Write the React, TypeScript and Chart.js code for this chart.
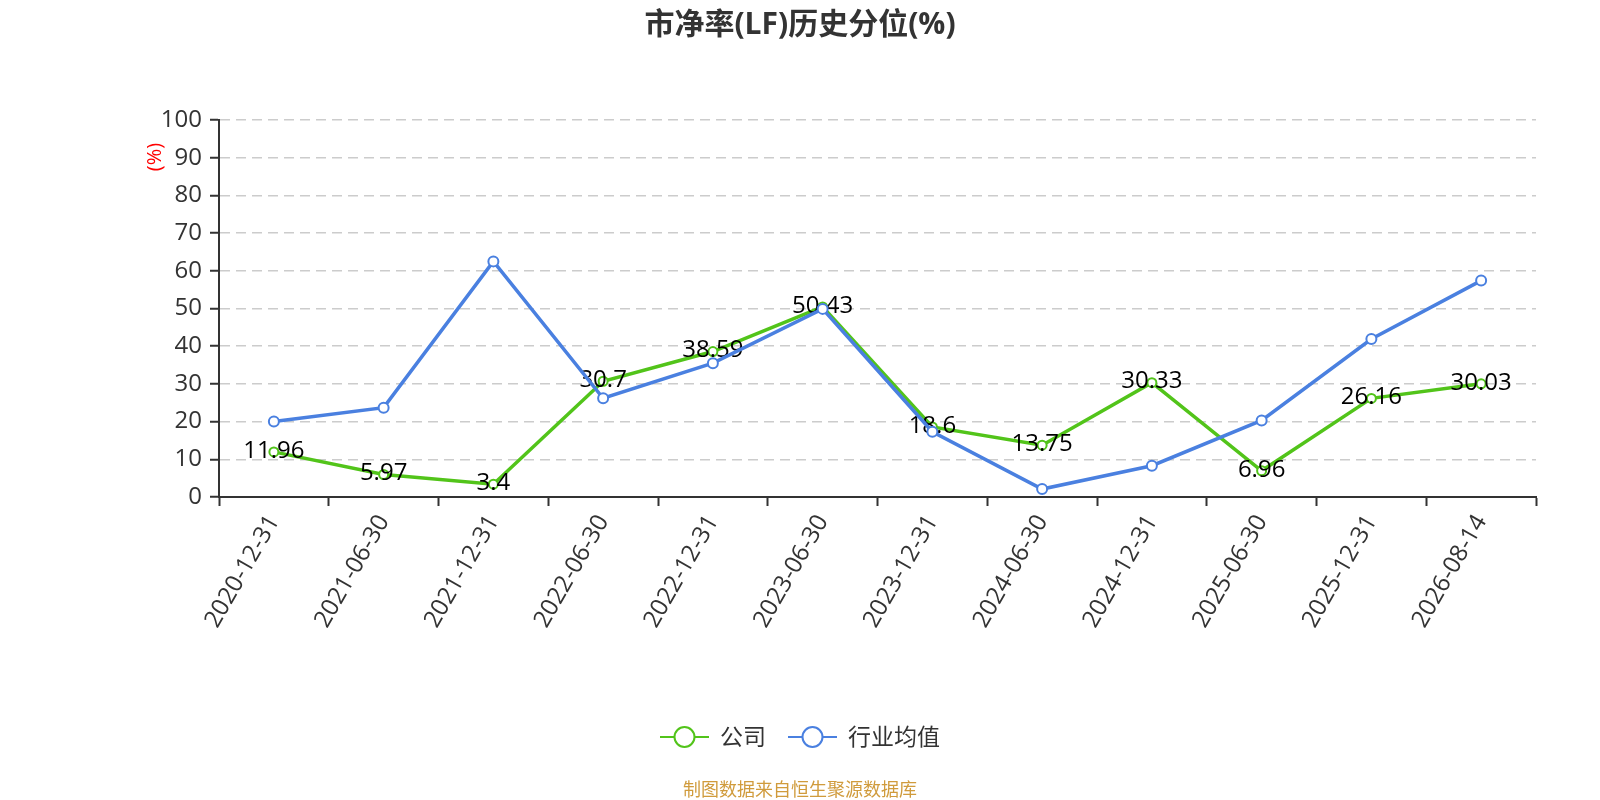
import React, { useEffect, useRef } from 'react';
import { Chart, registerables } from 'chart.js';

Chart.register(...registerables);

const dates = [
    '2020-12-31', '2021-06-30', '2021-12-31', '2022-06-30', '2022-12-31', '2023-06-30',
    '2023-12-31', '2024-06-30', '2024-12-31', '2025-06-30', '2025-12-31', '2026-08-14',
];
const companyValues = [11.96, 5.97, 3.4, 30.7, 38.59, 50.43, 18.6, 13.75, 30.33, 6.96, 26.16, 30.03];
const industryValues = [20.0, 23.7, 62.5, 26.2, 35.5, 49.9, 17.3, 2.1, 8.3, 20.3, 41.9, 57.4];
const seriesNames = ['公司', '行业均值'];

const GREEN = '#52c41a';
const BLUE = '#4a80e0';
const FONT = '"Open Sans", "Noto Sans CJK SC", sans-serif';

// title, y unit, data labels, legend and source line
const decorPlugin = {
    id: 'decor',
    afterDatasetDraw(chart: any, args: any) {
        if (args.index !== 0) return;
        const ctx = chart.ctx;
        ctx.save();
        ctx.font = `24px ${FONT}`;
        ctx.fillStyle = '#000';
        ctx.textAlign = 'center';
        ctx.textBaseline = 'middle';
        args.meta.data.forEach((pt: any, i: number) => {
            ctx.fillText(String(companyValues[i]), pt.x, pt.y - 1);
        });
        ctx.restore();
    },
    afterDraw(chart: any) {
        const ctx = chart.ctx;
        const { chartArea } = chart;
        const cx = chart.width / 2;
        ctx.save();

        // title
        ctx.fillStyle = '#333';
        ctx.font = `bold 30px ${FONT}`;
        ctx.textAlign = 'center';
        ctx.textBaseline = 'middle';
        ctx.fillText('市净率(LF)历史分位(%)', cx, 25);

        // y unit
        ctx.save();
        ctx.translate(chartArea.left - 64, chartArea.top + 37);
        ctx.rotate(-Math.PI / 2);
        ctx.fillStyle = 'red';
        ctx.font = `20px ${FONT}`;
        ctx.fillText('(%)', 0, 0);
        ctx.restore();

        // legend
        ctx.font = `23px ${FONT}`;
        const iconW = 49;
        const items = chart.data.datasets.map((ds: any) => ({
            label: ds.label,
            color: ds.borderColor,
            w: iconW + 11 + ctx.measureText(ds.label).width,
        }));
        const gap = 22;
        const total = items.reduce((s: number, it: any) => s + it.w, 0) + gap * (items.length - 1);
        let x = cx - total / 2;
        const ly = 737;
        items.forEach((it: any) => {
            ctx.strokeStyle = it.color;
            ctx.lineWidth = 2;
            ctx.beginPath();
            ctx.moveTo(x, ly);
            ctx.lineTo(x + iconW, ly);
            ctx.stroke();
            ctx.beginPath();
            ctx.arc(x + iconW / 2, ly, 10, 0, Math.PI * 2);
            ctx.fillStyle = '#fff';
            ctx.fill();
            ctx.stroke();
            ctx.fillStyle = '#333';
            ctx.textAlign = 'left';
            ctx.fillText(it.label, x + iconW + 11, ly + 1);
            x += it.w + gap;
        });

        // source
        ctx.font = `18px ${FONT}`;
        ctx.fillStyle = '#d09b3c';
        ctx.textAlign = 'center';
        ctx.fillText('制图数据来自恒生聚源数据库', cx, 791);
        ctx.restore();
    },
};

function App() {
    const chartRef = useRef<HTMLCanvasElement | null>(null);
    const chartInstance = useRef<Chart | null>(null);

    useEffect(() => {
        if (!chartRef.current) return;
        if (chartInstance.current) chartInstance.current.destroy();

        chartInstance.current = new Chart(chartRef.current, {
            type: 'line',
            data: {
                labels: dates,
                datasets: [
                    {
                        label: seriesNames[0],
                        data: companyValues,
                        borderColor: GREEN,
                        backgroundColor: '#fff',
                        borderWidth: 3.5,
                        pointRadius: 4.5,
                        pointBorderWidth: 2,
                        pointBackgroundColor: '#fff',
                        pointBorderColor: GREEN,
                        tension: 0,
                        order: 1,
                    },
                    {
                        label: seriesNames[1],
                        data: industryValues,
                        borderColor: BLUE,
                        backgroundColor: '#fff',
                        borderWidth: 3.5,
                        pointRadius: 5,
                        pointBorderWidth: 2,
                        pointBackgroundColor: '#fff',
                        pointBorderColor: BLUE,
                        tension: 0,
                        order: 0,
                    },
                ],
            },
            options: {
                animation: false,
                responsive: true,
                maintainAspectRatio: false,
                layout: { padding: { left: 139, right: 64, top: 120, bottom: 163 } },
                plugins: {
                    legend: { display: false },
                    title: { display: false },
                    tooltip: { enabled: false },
                },
                scales: {
                    x: {
                        offset: true,
                        afterFit: (scale: any) => { scale.height = 140; },
                        grid: {
                            offset: true,
                            drawOnChartArea: false,
                            drawTicks: true,
                            tickLength: 9,
                            tickColor: '#333',
                            tickWidth: 2,
                        },
                        border: { display: true, color: '#333', width: 2 },
                        ticks: {
                            autoSkip: false,
                            maxRotation: 60,
                            minRotation: 60,
                            padding: 4,
                            color: '#333',
                            font: { family: FONT, size: 24 },
                        },
                    },
                    y: {
                        min: 0,
                        max: 100,
                        afterFit: (scale: any) => { scale.width = 80; },
                        grid: {
                            color: '#ccc',
                            lineWidth: 1.5,
                            drawTicks: true,
                            tickLength: 9,
                            tickColor: '#333',
                            tickWidth: 2,
                        },
                        border: { display: true, color: '#333', width: 2, dash: [10, 6] },
                        ticks: {
                            stepSize: 10,
                            padding: 8,
                            color: '#333',
                            font: { family: FONT, size: 24 },
                        },
                    },
                },
            },
            plugins: [decorPlugin],
        });

        return () => {
            if (chartInstance.current) {
                chartInstance.current.destroy();
                chartInstance.current = null;
            }
        };
    }, []);

    return (
        <div style={{ position: 'fixed', left: 0, top: 0, width: 1600, height: 800, background: '#fff' }}>
            <canvas ref={chartRef} />
        </div>
    );
}

export default App;
